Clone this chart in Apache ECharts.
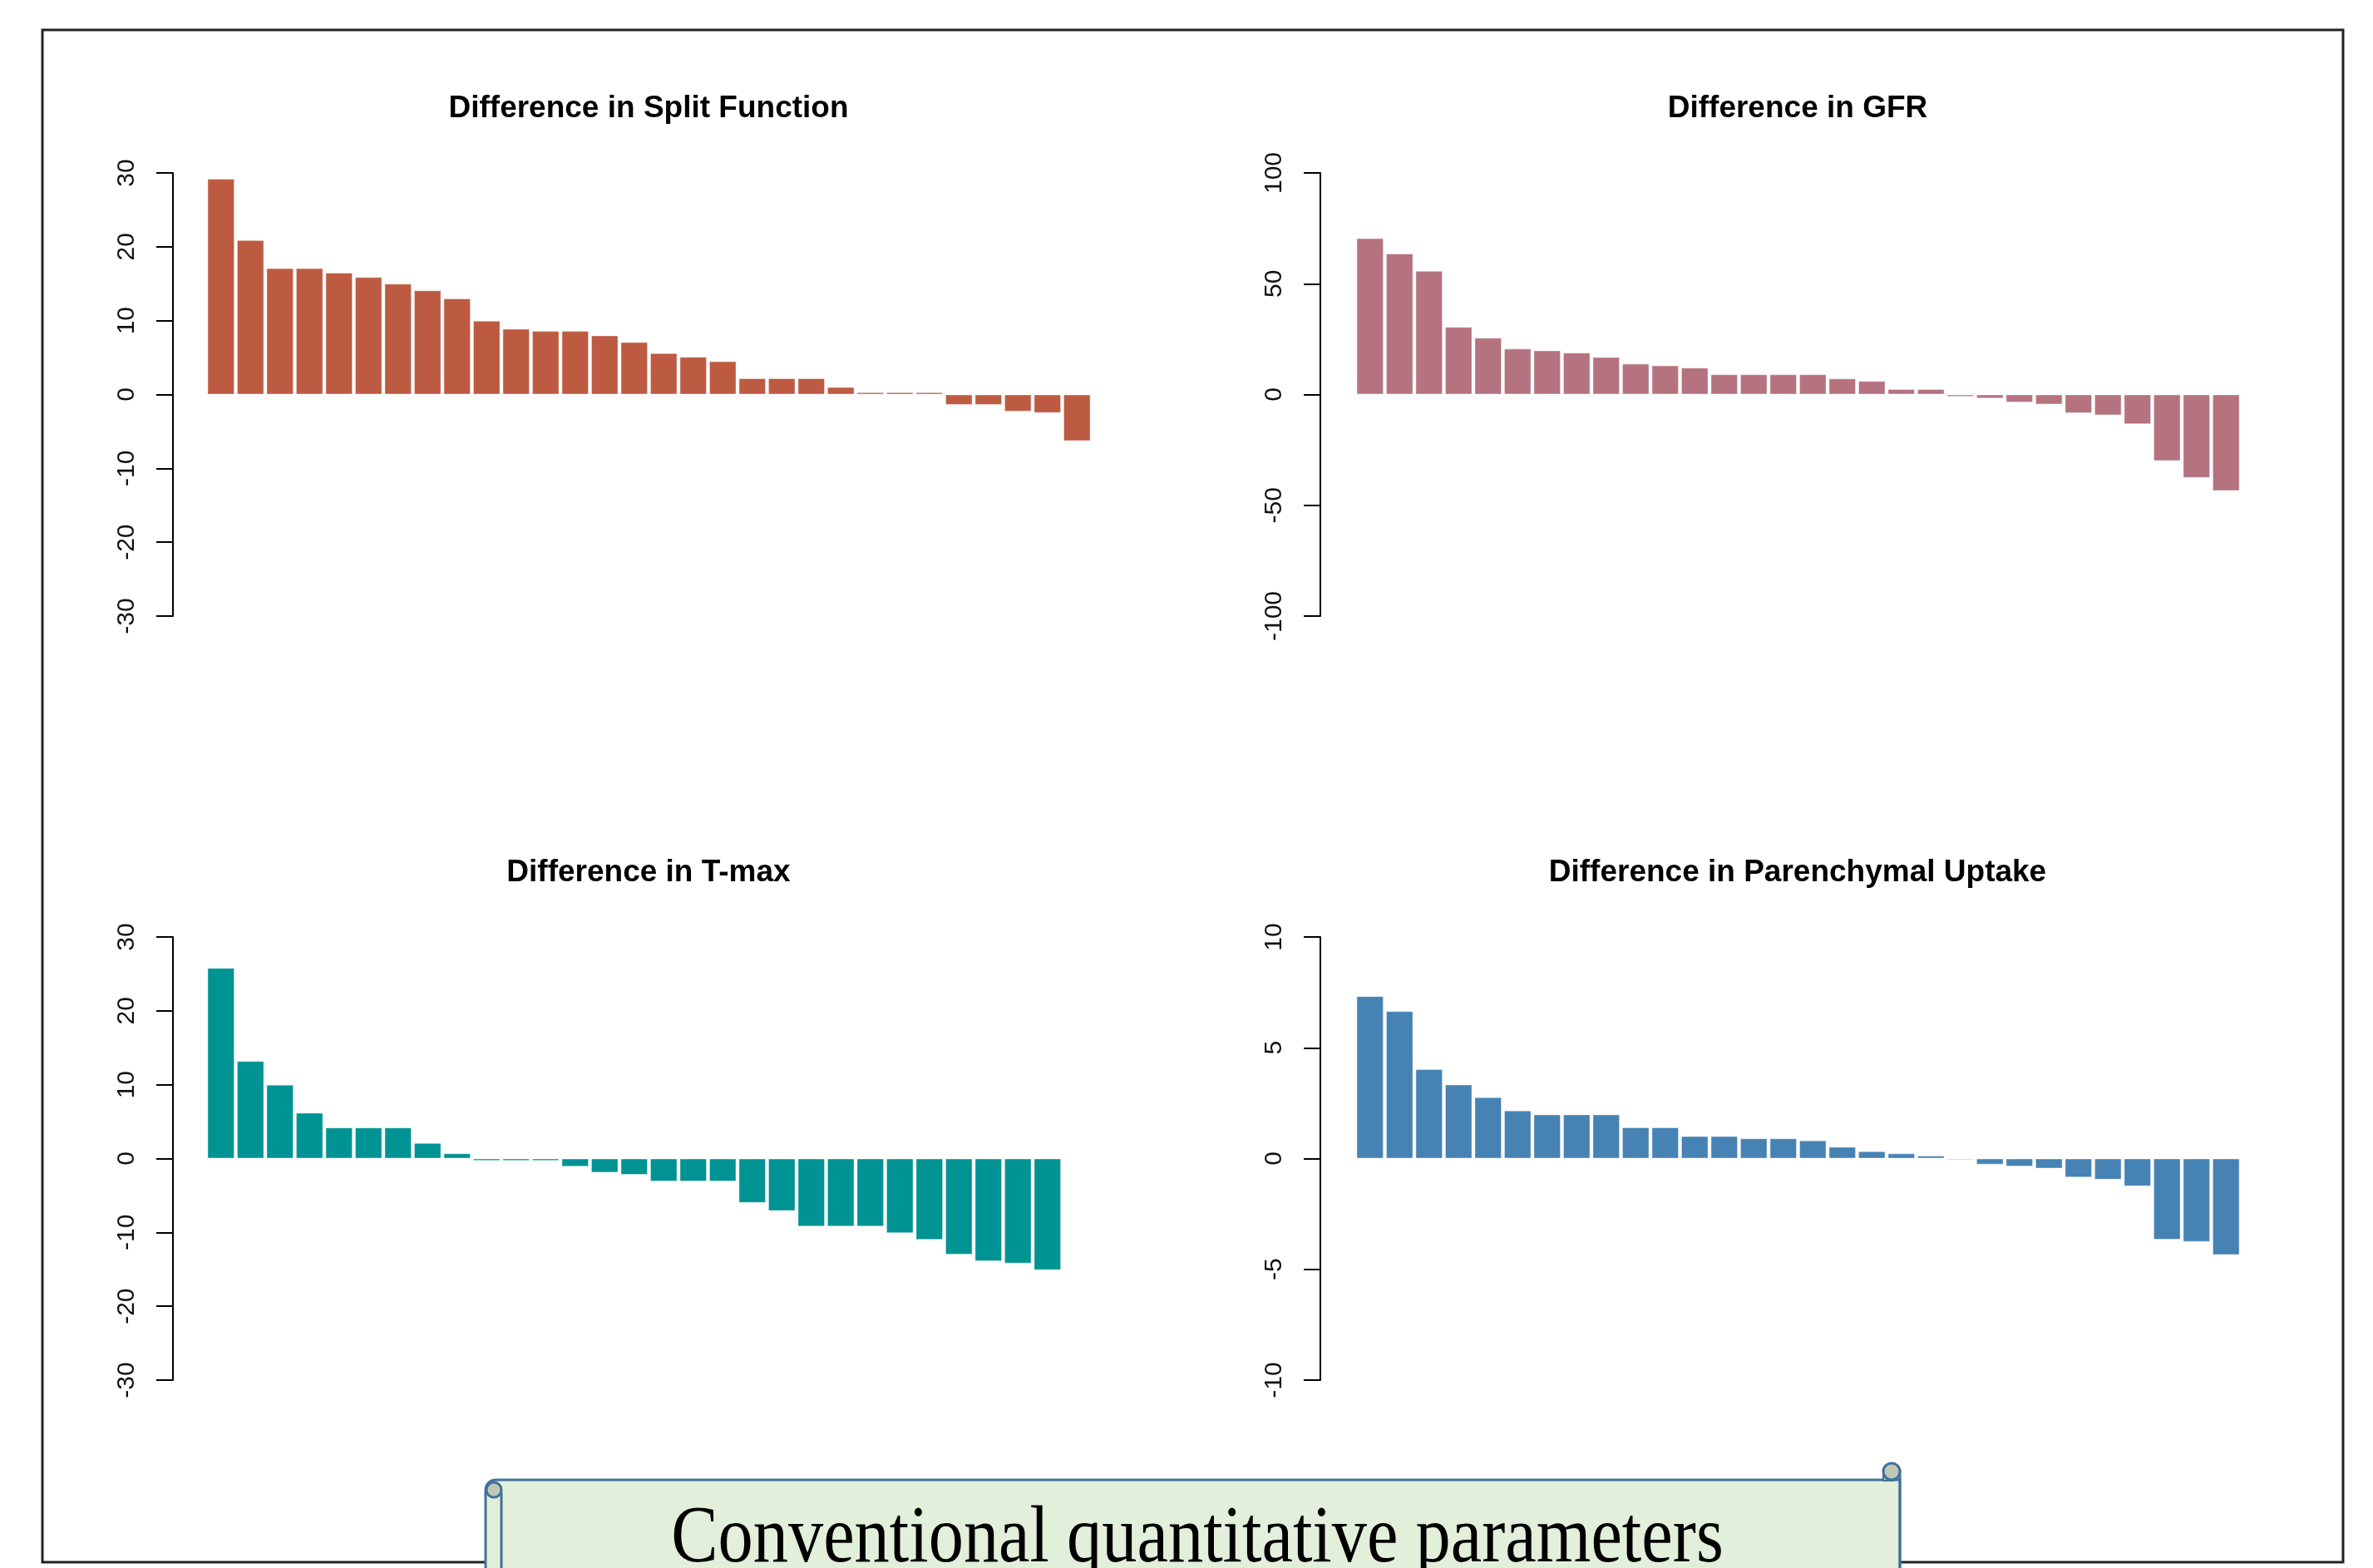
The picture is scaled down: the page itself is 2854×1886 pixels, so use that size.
<!DOCTYPE html>
<html>
<head>
<meta charset="utf-8">
<script src="https://cdn.jsdelivr.net/npm/echarts@6/dist/echarts.min.js"></script>
<style>
  html, body { margin: 0; padding: 0; background: #fff; }
  #chart { width: 2854px; height: 1886px; }
</style>
</head>
<body>
<div id="chart"></div>
<script>
// values, sorted as in the original barplots
var splitFunction = [29.2, 20.9, 17.1, 17.1, 16.5, 15.9, 15.0, 14.1, 13.0, 10.0,
    8.9, 8.6, 8.6, 8.0, 7.1, 5.6, 5.1, 4.5, 2.2, 2.2,
    2.2, 1.0, 0.3, 0.3, 0.3, -1.4, -1.4, -2.3, -2.5, -6.3];
var gfr = [70.5, 63.6, 55.8, 30.5, 25.6, 20.7, 19.9, 18.9, 16.9, 13.9,
    13.1, 12.1, 9.1, 9.1, 9.1, 9.1, 7.2, 6.1, 2.4, 2.4,
    -1.0, -1.8, -3.6, -4.5, -8.4, -9.4, -13.4, -30.0, -37.6, -43.5];
var tmax = [25.8, 13.2, 10.0, 6.2, 4.2, 4.2, 4.2, 2.1, 0.7, -0.3,
    -0.3, -0.3, -1.1, -1.9, -2.2, -3.1, -3.1, -3.1, -6.0, -7.1,
    -9.2, -9.2, -9.2, -10.1, -11.0, -13.0, -13.9, -14.2, -15.1, null];
var uptake = [7.33, 6.65, 4.03, 3.34, 2.77, 2.17, 1.99, 1.99, 1.99, 1.41,
    1.41, 1.01, 1.01, 0.91, 0.91, 0.82, 0.53, 0.33, 0.23, 0.13,
    -0.06, -0.27, -0.36, -0.45, -0.85, -0.95, -1.25, -3.66, -3.76, -4.35];

var titles = ['Difference in Split Function', 'Difference in GFR',
    'Difference in T-max', 'Difference in Parenchymal Uptake'];
var colors = ['#bd5b42', '#b5727f', '#009393', '#4682b4'];
var yMax = [30, 100, 30, 10];
var yStep = [10, 50, 10, 5];
var bannerText = 'Conventional quantitative parameters';

var chart = echarts.init(document.getElementById('chart'));

var idx = [];
for (var i = 0; i < 30; i++) idx.push(i + 1);

var panels = [
    {left: 248, top: 208, offset: 40, data: splitFunction},
    {left: 1630, top: 208, offset: 42, data: gfr},
    {left: 248, top: 1127, offset: 40, data: tmax},
    {left: 1630, top: 1127, offset: 42, data: uptake}
];

var grids = [], xAxes = [], yAxes = [], series = [], graphics = [];

// outer frame
graphics.push({
    type: 'rect', z: 1,
    shape: {x: 51, y: 36, width: 2767, height: 1843},
    style: {fill: null, stroke: '#222', lineWidth: 3}
});

panels.forEach(function (p, k) {
    grids.push({left: p.left, top: p.top, width: 1065, height: 533});
    xAxes.push({type: 'category', gridIndex: k, data: idx, show: false});
    yAxes.push({
        type: 'value', gridIndex: k,
        min: -yMax[k], max: yMax[k], interval: yStep[k],
        offset: p.offset,
        splitLine: {show: false},
        axisLine: {show: true, lineStyle: {color: '#000', width: 2}},
        axisTick: {show: true, length: 20, lineStyle: {color: '#000', width: 2}},
        axisLabel: {
            rotate: 90, margin: 40, color: '#111',
            fontFamily: 'Liberation Sans', fontSize: 30
        }
    });
    series.push({
        type: 'bar', xAxisIndex: k, yAxisIndex: k,
        data: p.data,
        barCategoryGap: '8%',
        itemStyle: {color: colors[k], borderColor: 'rgba(255,255,255,0.45)', borderWidth: 1},
        animation: false
    });
    // panel title, centred over the plot region
    graphics.push({
        type: 'text', z: 10,
        x: p.left + 532,
        y: p.top - 77,
        style: {
            text: titles[k], textAlign: 'center', textVerticalAlign: 'middle',
            font: 'bold 37px "Liberation Sans"', fill: '#000'
        }
    });
});

// scroll banner at the bottom
var bannerStroke = '#41719c';
var bannerFill = '#e2efda';
var curlFill = '#bfc9b5';
graphics.push({
    type: 'rect', z: 20,
    shape: {x: 584, y: 1780, width: 1701, height: 130, r: [12, 0, 0, 0]},
    style: {fill: bannerFill, stroke: bannerStroke, lineWidth: 3}
});
graphics.push({
    type: 'line', z: 21,
    shape: {x1: 2285, y1: 1768, x2: 2285, y2: 1890},
    style: {stroke: bannerStroke, lineWidth: 3}
});
graphics.push({
    type: 'line', z: 21,
    shape: {x1: 603, y1: 1795, x2: 603, y2: 1890},
    style: {stroke: bannerStroke, lineWidth: 3}
});
graphics.push({
    type: 'circle', z: 22,
    shape: {cx: 594, cy: 1792, r: 9},
    style: {fill: curlFill, stroke: bannerStroke, lineWidth: 3}
});
graphics.push({
    type: 'rect', z: 22,
    shape: {x: 2265, y: 1773, width: 12, height: 8},
    style: {fill: curlFill, stroke: bannerStroke, lineWidth: 2}
});
graphics.push({
    type: 'circle', z: 22,
    shape: {cx: 2275, cy: 1770, r: 10},
    style: {fill: curlFill, stroke: bannerStroke, lineWidth: 3}
});
graphics.push({
    type: 'text', z: 25,
    x: 1440, y: 1901, scaleX: 0.87,
    style: {
        text: bannerText, x: 0, y: 0,
        textAlign: 'center', textVerticalAlign: 'bottom',
        font: '97px "Liberation Serif"', fill: '#000'
    }
});

var option = {
    animation: false,
    backgroundColor: '#fff',
    grid: grids,
    xAxis: xAxes,
    yAxis: yAxes,
    series: series,
    graphic: graphics
};

chart.setOption(option);
</script>
</body>
</html>
